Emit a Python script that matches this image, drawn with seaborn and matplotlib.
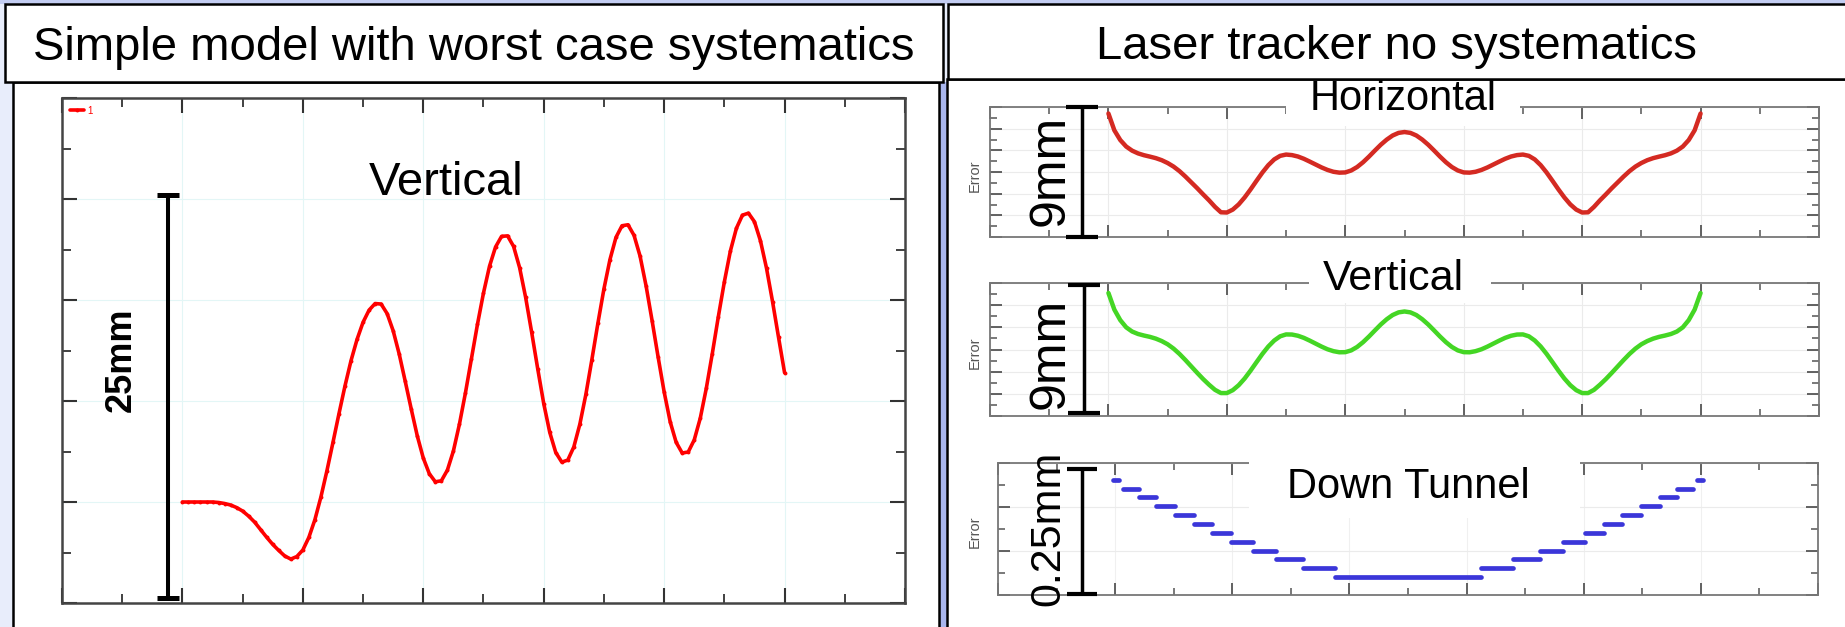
import matplotlib
matplotlib.use("Agg")
import matplotlib.pyplot as plt
import numpy as np
import pandas as pd
import seaborn as sns
from matplotlib.patches import Rectangle

W, H = 1845, 627

# ---------------- data ----------------
# sample positions along the beam line (plot units, 2 .. 12)
grid_x = [2.0, 2.1, 2.2, 2.3, 2.4, 2.5, 2.6, 2.7, 2.8, 2.9,
          3.0, 3.1, 3.2, 3.3, 3.4, 3.5, 3.6, 3.7, 3.8, 3.9,
          4.0, 4.1, 4.2, 4.3, 4.4, 4.5, 4.6, 4.7, 4.8, 4.9,
          5.0, 5.1, 5.2, 5.3, 5.4, 5.5, 5.6, 5.7, 5.8, 5.9,
          6.0, 6.1, 6.2, 6.3, 6.4, 6.5, 6.6, 6.7, 6.8, 6.9,
          7.0, 7.1, 7.2, 7.3, 7.4, 7.5, 7.6, 7.7, 7.8, 7.9,
          8.0, 8.1, 8.2, 8.3, 8.4, 8.5, 8.6, 8.7, 8.8, 8.9,
          9.0, 9.1, 9.2, 9.3, 9.4, 9.5, 9.6, 9.7, 9.8, 9.9,
          10.0, 10.1, 10.2, 10.3, 10.4, 10.5, 10.6, 10.7, 10.8, 10.9,
          11.0, 11.1, 11.2, 11.3, 11.4, 11.5, 11.6, 11.7, 11.8, 11.9,
          12.0]

# left: simple model, vertical (plot units 0..10, 25 mm full bar)
left_y = [2.00, 2.00, 2.00, 2.00, 2.00, 2.00, 1.99, 1.97, 1.94, 1.89,
          1.82, 1.72, 1.60, 1.45, 1.30, 1.16, 1.04, 0.93, 0.87, 0.92,
          1.05, 1.30, 1.65, 2.10, 2.62, 3.18, 3.75, 4.30, 4.80, 5.22,
          5.56, 5.80, 5.93, 5.92, 5.73, 5.39, 4.93, 4.39, 3.84, 3.31,
          2.87, 2.56, 2.40, 2.42, 2.63, 3.01, 3.54, 4.16, 4.84, 5.52,
          6.14, 6.67, 7.05, 7.26, 7.27, 7.06, 6.64, 6.05, 5.36, 4.64,
          3.95, 3.38, 2.98, 2.79, 2.83, 3.09, 3.54, 4.13, 4.82, 5.54,
          6.22, 6.80, 7.24, 7.47, 7.49, 7.28, 6.87, 6.28, 5.59, 4.87,
          4.18, 3.59, 3.18, 2.97, 2.99, 3.23, 3.66, 4.25, 4.94, 5.67,
          6.36, 6.97, 7.42, 7.68, 7.72, 7.55, 7.17, 6.63, 5.97, 5.26,
          4.56]

# right: laser tracker, horizontal (plot units 0..12, 9 mm full bar)
horizontal_y = [11.40, 9.85, 8.95, 8.35, 7.97, 7.72, 7.55, 7.42, 7.28, 7.09,
                6.83, 6.50, 6.08, 5.58, 5.04, 4.50, 3.93, 3.38, 2.78, 2.28,
                2.26, 2.53, 3.01, 3.65, 4.39, 5.18, 5.95, 6.63, 7.16, 7.49,
                7.61, 7.56, 7.43, 7.22, 6.96, 6.69, 6.42, 6.19, 6.02, 5.94,
                5.96, 6.14, 6.46, 6.90, 7.42, 7.98, 8.52, 8.99, 9.37, 9.61,
                9.69, 9.61, 9.37, 8.99, 8.52, 7.98, 7.42, 6.90, 6.46, 6.14,
                5.96, 5.94, 6.02, 6.19, 6.42, 6.69, 6.96, 7.22, 7.43, 7.56,
                7.61, 7.49, 7.16, 6.63, 5.95, 5.18, 4.39, 3.65, 3.01, 2.53,
                2.26, 2.28, 2.78, 3.38, 3.93, 4.50, 5.04, 5.58, 6.08, 6.50,
                6.83, 7.09, 7.28, 7.42, 7.55, 7.72, 7.97, 8.35, 8.95, 9.85,
                11.40]

# right: laser tracker, vertical (plot units 0..12, 9 mm full bar)
vertical_y = [11.10, 9.60, 8.65, 8.00, 7.62, 7.40, 7.26, 7.14, 6.98, 6.76,
              6.47, 6.08, 5.60, 5.05, 4.47, 3.89, 3.33, 2.82, 2.36, 2.07,
              2.07, 2.33, 2.78, 3.38, 4.09, 4.85, 5.60, 6.27, 6.81, 7.19,
              7.36, 7.35, 7.24, 7.05, 6.80, 6.53, 6.26, 6.02, 5.85, 5.75,
              5.76, 5.92, 6.23, 6.66, 7.17, 7.72, 8.26, 8.73, 9.11, 9.35,
              9.43, 9.35, 9.11, 8.73, 8.26, 7.72, 7.17, 6.66, 6.23, 5.92,
              5.76, 5.75, 5.85, 6.02, 6.26, 6.53, 6.80, 7.05, 7.24, 7.35,
              7.36, 7.19, 6.81, 6.27, 5.60, 4.85, 4.09, 3.38, 2.78, 2.33,
              2.07, 2.07, 2.36, 2.82, 3.33, 3.89, 4.47, 5.05, 5.60, 6.08,
              6.47, 6.76, 6.98, 7.14, 7.26, 7.40, 7.62, 8.00, 8.65, 9.60,
              11.10]

# right: down tunnel staircase (plot units 0..6, 0.25 mm full bar)
tunnel_start = [1.97, 2.13, 2.40, 2.69, 3.02, 3.34, 3.65, 3.98, 4.35, 4.75, 5.21, 5.76,
                8.24, 8.79, 9.25, 9.65, 10.02, 10.35, 10.66, 10.98, 11.31, 11.60, 11.93]
tunnel_end = [2.07, 2.40, 2.69, 3.02, 3.34, 3.65, 3.98, 4.35, 4.75, 5.21, 5.76, 8.24,
              8.79, 9.25, 9.65, 10.02, 10.35, 10.66, 10.98, 11.31, 11.60, 11.87, 12.03]
tunnel_level = [5.24, 4.83, 4.44, 4.03, 3.63, 3.21, 2.81, 2.40, 2.02, 1.63, 1.23, 0.82,
                1.23, 1.63, 2.02, 2.40, 2.81, 3.21, 3.63, 4.03, 4.44, 4.83, 5.24]

title_left = "Simple model with worst case systematics"
title_right = "Laser tracker no systematics"
panel_labels = ["Vertical", "Horizontal", "Vertical", "Down Tunnel"]
range_labels = ["25mm", "9mm", "9mm", "0.25mm"]
axis_label = "Error"
legend_label = "1"

# ---------------- style ----------------
sns.set_style("white")
plt.rcParams["font.family"] = ["Liberation Sans", "DejaVu Sans"]
plt.rcParams["text.color"] = "black"

fig = plt.figure(figsize=(W / 100, H / 100), dpi=100)
fig.patch.set_facecolor("#e8edfb")


def rect(x0, y0, x1, y1):
    return [x0 / W, 1 - y1 / H, (x1 - x0) / W, (y1 - y0) / H]


# background / panel frames
bg = fig.add_axes([0, 0, 1, 1], zorder=0)
bg.set_xlim(0, W)
bg.set_ylim(H, 0)
bg.axis("off")
bg.add_patch(Rectangle((0, 0), W, 4, fc="#c3cdf2", ec="none"))
bg.add_patch(Rectangle((939, 82), 8, 600, fc="#a9b6ee", ec="none"))
bg.add_patch(Rectangle((13, 82), 926, 600, fc="white", ec="black", lw=1.8))
bg.add_patch(Rectangle((947, 79), 950, 600, fc="white", ec="black", lw=1.8))
bg.add_patch(Rectangle((5, 4), 938, 78, fc="white", ec="black", lw=1.8))
bg.add_patch(Rectangle((948, 4), 950, 75, fc="white", ec="black", lw=1.8))
bg.text(474, 60, title_left, ha="center", va="baseline", fontsize=34, color="black")
bg.text(1396, 59, title_right, ha="center", va="baseline", fontsize=34, color="black")

# ---------------- left plot ----------------
axL = fig.add_axes(rect(62, 98, 905, 603), zorder=2)
sns.lineplot(x=grid_x, y=left_y, ax=axL, color="#ff0000", lw=2.6, marker="o",
             markersize=2.8, markeredgewidth=0, label=legend_label)
axL.set_xlim(0, 14)
axL.set_ylim(0, 10)
axL.set_xticks(range(0, 15, 2))
axL.set_xticks(range(1, 14, 2), minor=True)
axL.set_yticks(range(0, 11, 2))
axL.set_yticks(range(1, 10, 2), minor=True)
axL.tick_params(which="both", direction="in", top=True, right=True, bottom=True, left=True,
                labelbottom=False, labelleft=False, color="#333333")
axL.tick_params(which="major", length=11, width=1.5)
axL.tick_params(which="minor", length=6.5, width=1.3)
axL.grid(True, which="major", color="#e3f6f6", lw=0.8)
axL.set_xlabel("")
axL.set_ylabel("")
for s in axL.spines.values():
    s.set_color("#444444")
    s.set_linewidth(1.8)
axL.legend(loc="upper left", frameon=False, fontsize=7, labelcolor="red",
           handlelength=1.5, borderaxespad=0.4, handletextpad=0.3)


# ---------------- right plots ----------------
def style_right(ax, ymax):
    ax.set_xlim(0, 14)
    ax.set_ylim(0, ymax)
    ax.set_xticks(range(0, 15, 2))
    ax.set_xticks(range(1, 14, 2), minor=True)
    ax.set_yticks(range(0, ymax + 1, 2))
    ax.set_yticks(range(1, ymax, 2), minor=True)
    ax.tick_params(which="both", direction="in", top=True, right=True, bottom=True, left=True,
                   labelbottom=False, labelleft=False, color="#555555")
    ax.tick_params(which="major", length=8.5, width=1.3)
    ax.tick_params(which="minor", length=5, width=1.1)
    ax.grid(True, which="major", color="#ebebeb", lw=0.8)
    ax.set_xlabel("")
    ax.set_ylabel("")
    for s in ax.spines.values():
        s.set_color("#777777")
        s.set_linewidth(1.3)


axH = fig.add_axes(rect(990, 107, 1819, 237), zorder=2)
sns.lineplot(x=grid_x, y=horizontal_y, ax=axH, color="#d42a22", lw=3.2,
             solid_capstyle="round", solid_joinstyle="round")
style_right(axH, 12)

axV = fig.add_axes(rect(990, 283, 1819, 416), zorder=2)
sns.lineplot(x=grid_x, y=vertical_y, ax=axV, color="#44d624", lw=3.2,
             solid_capstyle="round", solid_joinstyle="round")
style_right(axV, 12)

axT = fig.add_axes(rect(998, 463, 1818, 595), zorder=2)
seg_rows = []
for i, (a, b, lev) in enumerate(zip(tunnel_start, tunnel_end, tunnel_level)):
    seg_rows.append({"x": a, "y": lev, "seg": i})
    seg_rows.append({"x": b, "y": lev, "seg": i})
seg_df = pd.DataFrame(seg_rows)
sns.lineplot(data=seg_df, x="x", y="y", units="seg", estimator=None, ax=axT,
             color="#3b36d9", lw=3.4, solid_capstyle="round")
style_right(axT, 6)
axT.grid(False)
axT.grid(True, which="major", axis="y", color="#ebebeb", lw=0.8)
axT.grid(True, which="major", axis="x", color="#f0f0f0", lw=0.8)

# ---------------- overlay: labels, range bars ----------------
ov = fig.add_axes([0, 0, 1, 1], zorder=10)
ov.set_xlim(0, W)
ov.set_ylim(H, 0)
ov.axis("off")

ov.add_patch(Rectangle((1286, 82), 234, 44, fc="white", ec="none"))
ov.add_patch(Rectangle((1309, 250), 182, 53, fc="white", ec="none"))
ov.add_patch(Rectangle((1249, 440), 331, 78, fc="white", ec="none"))

ov.text(446, 195, panel_labels[0], ha="center", va="baseline", fontsize=34, color="black")
ov.text(1403, 110, panel_labels[1], ha="center", va="baseline", fontsize=30, color="black")
ov.text(1393, 290, panel_labels[2], ha="center", va="baseline", fontsize=31, color="black")
ov.text(1408, 498, panel_labels[3], ha="center", va="baseline", fontsize=30, color="black")

for yy in (176, 353, 532):
    ov.text(975, yy, axis_label, rotation=90, ha="center", va="center",
            fontsize=10.5, color="#555555")

ov.text(121, 360, range_labels[0], rotation=90, ha="center", va="center",
        fontsize=26, fontweight="bold", color="black")
ov.text(1051, 170, range_labels[1], rotation=90, ha="center", va="center", fontsize=36,
        color="black")
ov.text(1051, 353, range_labels[2], rotation=90, ha="center", va="center", fontsize=36,
        color="black")
ov.text(1048, 528, range_labels[3], rotation=90, ha="center", va="center", fontsize=31,
        color="black")


def range_bar(x, y0, y1, half, lw_line, lw_cap):
    ov.plot([x, x], [y0, y1], color="black", lw=lw_line, solid_capstyle="butt")
    for yy in (y0, y1):
        ov.plot([x - half, x + half], [yy, yy], color="black", lw=lw_cap,
                solid_capstyle="butt")


range_bar(168, 195, 598, 11, 2.9, 3.6)
range_bar(1082, 107, 237, 16, 2.5, 3.0)
range_bar(1084, 285, 413, 16, 2.5, 3.0)
range_bar(1082, 469, 594, 15, 2.5, 3.0)

fig.savefig("out.png", dpi=100, facecolor=fig.get_facecolor())
